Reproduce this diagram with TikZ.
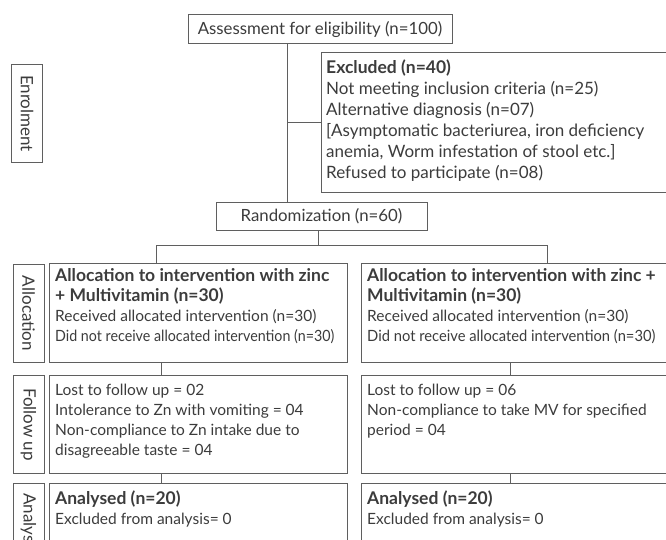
\documentclass[tikz,border=0pt]{standalone}
\usepackage{fontspec}
\setmainfont{Lato}
\usetikzlibrary{positioning}
\definecolor{framegray}{RGB}{95,95,95}
\definecolor{inkgray}{RGB}{60,60,60}
\newcommand{\boxhead}[1]{{\fontsize{17.5}{20}\selectfont\bfseries #1}}

\tikzset{
  box/.style={draw=framegray,line width=1pt,anchor=north west,inner sep=0pt},
  plainbox/.style={draw=framegray,line width=1pt,inner sep=0pt,text=inkgray,font=\fontsize{16.8}{20}\selectfont},
  toptxt/.style={anchor=north west,align=left,inner sep=0pt,text=inkgray,font=\fontsize{17}{21}\selectfont},
  txt/.style={anchor=north west,align=left,inner sep=0pt,text=inkgray,font=\fontsize{15.5}{20}\selectfont},
  lbl/.style={draw=framegray,line width=1pt,rotate=-90,anchor=west,minimum height=31pt,inner sep=0pt,text=inkgray,font=\fontsize{17}{18}\selectfont},
  link/.style={draw=framegray,line width=1pt}
}

\begin{document}
\begin{tikzpicture}[x=1pt,y=-1pt]
  \useasboundingbox (0,0) rectangle (666,540);
  \clip (0,0) rectangle (666,540);
  \fill[white] (0,0) rectangle (666,540);

  % enrolment
  \node[lbl,minimum width=98pt] (enrol) at (27,64) {Enrolment};
  \node[plainbox,minimum width=264pt,minimum height=29pt] (assess) at (320,29.5) {Assessment for eligibility (n=100)};
  \node[box,minimum width=350pt,minimum height=140pt] (excl) at (321,52) {};
  \node[toptxt] (exclT) at ([xshift=5pt,yshift=-8pt]excl.north west) {\boxhead{Excluded (n=40)}\\
    Not meeting inclusion criteria (n=25)\\
    Alternative diagnosis (n=07)\\
    {[}Asymptomatic bacteriurea, iron deficiency\\
    anemia, Worm infestation of stool etc.{]}\\
    Refused to participate (n=08)};
  \node[plainbox,minimum width=211pt,minimum height=28pt] (rand) at (321.5,216) {Randomization (n=60)};

  % allocation
  \node[lbl,minimum width=98pt] (alloc) at (28.5,264) {Allocation};
  \node[box,minimum width=298pt,minimum height=99pt] (allocL) at (49,263) {};
  \node[txt] (allocLT) at ([xshift=6pt,yshift=-5pt]allocL.north west) {\boxhead{Allocation to intervention with zinc}\\
    \boxhead{+ Multivitamin (n=30)}\\
    Received allocated intervention (n=30)\\
    \scalebox{0.92}[1]{Did not receive allocated intervention (n=30)}};
  \node[box,minimum width=310pt,minimum height=99pt] (allocR) at (361,263) {};
  \node[txt] (allocRT) at ([xshift=6pt,yshift=-5pt]allocR.north west) {\boxhead{Allocation to intervention with zinc +}\\
    \boxhead{Multivitamin (n=30)}\\
    Received allocated intervention (n=30)\\
    \scalebox{0.95}[1]{Did not receive allocated intervention (n=30)}};

  % follow up
  \node[lbl,minimum width=98pt] (follow) at (28.5,375) {Follow up};
  \node[box,minimum width=298pt,minimum height=98pt] (folL) at (49,375) {};
  \node[txt] (folLT) at ([xshift=6pt,yshift=-9pt]folL.north west) {Lost to follow up = 02\\
    Intolerance to Zn with vomiting = 04\\
    Non-compliance to Zn intake due to\\
    disagreeable taste = 04};
  \node[box,minimum width=310pt,minimum height=98pt] (folR) at (361,375) {};
  \node[txt] (folRT) at ([xshift=6pt,yshift=-9pt]folR.north west) {Lost to follow up = 06\\
    Non-compliance to take MV for specified\\
    period = 04};

  % analysis
  \node[lbl,minimum width=80pt] (analysis) at (28.5,483) {Analysis};
  \node[box,minimum width=298pt,minimum height=80pt] (anaL) at (49,483) {};
  \node[txt] (anaLT) at ([xshift=6pt,yshift=-8pt]anaL.north west) {\boxhead{Analysed (n=20)}\\
    Excluded from analysis= 0};
  \node[box,minimum width=310pt,minimum height=80pt] (anaR) at (361,483) {};
  \node[txt] (anaRT) at ([xshift=6pt,yshift=-8pt]anaR.north west) {\boxhead{Analysed (n=20)}\\
    Excluded from analysis= 0};

  % connectors
  \coordinate (trunk) at (287,0);
  \coordinate (split) at (318,245);
  \coordinate (forkL) at (156,245);
  \coordinate (forkR) at (547,245);
  \coordinate (colL) at (161,0);
  \coordinate (colR) at (510,0);
  \draw[link] (assess.south -| trunk) -- (rand.north -| trunk);
  \draw[link] (trunk |- excl.west) -- (excl.west);
  \draw[link] (rand.south -| split) -- (split);
  \draw[link] (allocL.north -| forkL) -- (forkL) -- (forkR) -- (allocR.north -| forkR);
  \draw[link] (allocL.south -| colL) -- (folL.north -| colL);
  \draw[link] (allocR.south -| colR) -- (folR.north -| colR);
  \draw[link] (folL.south -| colL) -- (anaL.north -| colL);
  \draw[link] (folR.south -| colR) -- (anaR.north -| colR);
\end{tikzpicture}
\end{document}
